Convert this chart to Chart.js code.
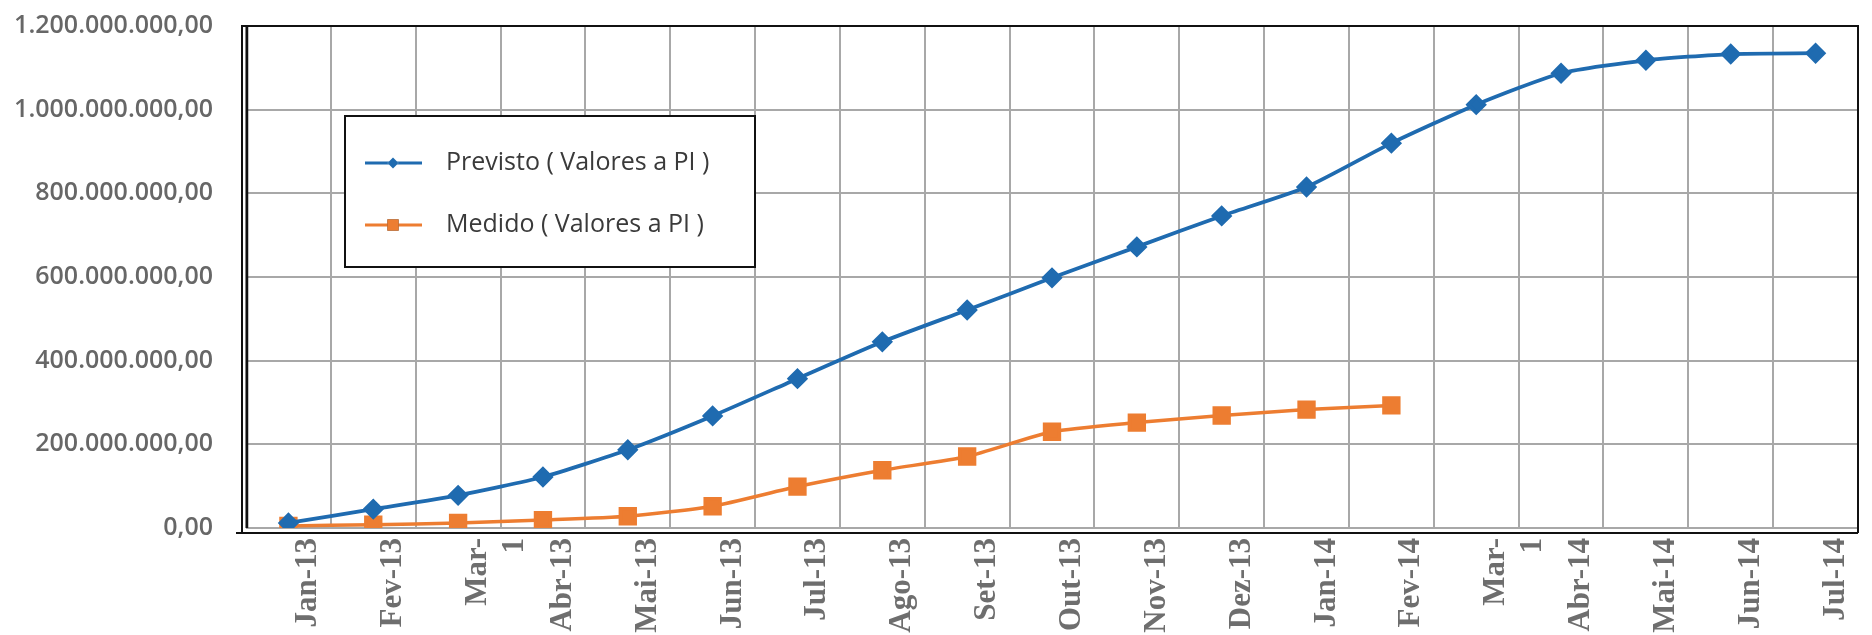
<!DOCTYPE html>
<html><head><meta charset="utf-8">
<script src="https://cdn.jsdelivr.net/npm/chart.js@4.4.0/dist/chart.umd.min.js"></script>
<style>html,body{margin:0;padding:0;background:#fff}#wrap{width:1872px;height:635px;position:relative}</style>
</head><body><div id="wrap"><canvas id="c" width="1872" height="635"></canvas></div>
<script>
const categories = ['Jan-13','Fev-13',['Mar-','1'],'Abr-13','Mai-13','Jun-13','Jul-13','Ago-13','Set-13','Out-13','Nov-13','Dez-13','Jan-14','Fev-14',['Mar-','1'],'Abr-14','Mai-14','Jun-14','Jul-14'];
const previsto = [12e6,45e6,78e6,122e6,187e6,268e6,357e6,445e6,521e6,598e6,672e6,746e6,815e6,920e6,1012e6,1087e6,1118e6,1133e6,1135e6];
const medido = [5e6,8e6,12e6,19e6,28e6,52e6,99e6,138e6,171e6,230e6,252e6,269e6,283e6,293e6,null,null,null,null,null];
const seriesNames = ['Previsto ( Valores a PI )','Medido ( Valores a PI )'];
const yTicks = [0,200e6,400e6,600e6,800e6,1000e6,1200e6];

const BLUE = '#1F6BB0', ORANGE = '#ED7D31';

function fmt(v){
  const s = Math.round(v).toString().replace(/\B(?=(\d{3})+(?!\d))/g,'.');
  return s + ',00';
}

const framePlugin = {
  id:'frame',
  beforeDatasetsDraw(chart){
    const {ctx, chartArea:a} = chart;
    const right = Math.min(a.right, chart.width - 2);
    ctx.save();
    ctx.strokeStyle = '#111';
    ctx.lineWidth = 2;
    ctx.beginPath();
    ctx.moveTo(a.left-4, a.bottom+5);
    ctx.lineTo(a.left-4, a.top);
    ctx.lineTo(right, a.top);
    ctx.lineTo(right, a.bottom+5);
    ctx.stroke();
    ctx.beginPath();
    ctx.moveTo(a.left-10, a.bottom+5);
    ctx.lineTo(right, a.bottom+5);
    ctx.stroke();
    ctx.lineWidth = 2.5;
    ctx.beginPath();
    ctx.moveTo(a.left+1, a.top);
    ctx.lineTo(a.left+1, a.bottom);
    ctx.stroke();
    ctx.restore();
  }
};

const legendPlugin = {
  id:'boxLegend',
  afterDraw(chart){
    const {ctx} = chart;
    const bx = 345, by = 116, bw = 410, bh = 151;
    ctx.save();
    ctx.fillStyle = '#fff';
    ctx.fillRect(bx, by, bw, bh);
    ctx.strokeStyle = '#111';
    ctx.lineWidth = 2;
    ctx.strokeRect(bx, by, bw, bh);
    const rows = [163, 225];
    chart.data.datasets.forEach((ds, i) => {
      const y = rows[i];
      ctx.strokeStyle = ds.borderColor;
      ctx.lineWidth = 3;
      ctx.beginPath(); ctx.moveTo(365, y); ctx.lineTo(422, y); ctx.stroke();
      Chart.helpers.drawPoint(ctx, {pointStyle: ds.pointStyle, radius: i===0?5.5:8, borderWidth:0}, 393, y);
      ctx.fillStyle = ds.pointBackgroundColor;
      ctx.fill();
      ctx.fillStyle = '#3a3a3a';
      ctx.font = '25px "Open Sans"';
      ctx.textBaseline = 'middle';
      ctx.textAlign = 'left';
      ctx.fillText(ds.label, 446, y);
    });
    ctx.restore();
  }
};

new Chart(document.getElementById('c'), {
  type:'line',
  data:{
    labels: categories,
    datasets:[
      {label: seriesNames[0], data: previsto, borderColor: BLUE, backgroundColor: BLUE, pointBackgroundColor: BLUE, pointBorderColor: BLUE, pointStyle:'rectRot', pointRadius:8, borderWidth:3.8, tension:0.2},
      {label: seriesNames[1], data: medido, borderColor: ORANGE, backgroundColor: ORANGE, pointBackgroundColor: ORANGE, pointBorderColor: ORANGE, pointStyle:'rect', pointRadius:10.5, borderWidth:3.5, tension:0.2, spanGaps:false}
    ]
  },
  options:{
    responsive:false, animation:false,
    layout:{padding:{top:26, right:-7, left:0, bottom:0}},
    plugins:{legend:{display:false}, tooltip:{enabled:false}},
    scales:{
      x:{
        type:'category', offset:true,
        grid:{offset:true, color:'#a8a8a8', lineWidth:2, drawTicks:false},
        border:{display:false},
        ticks:{minRotation:90, maxRotation:90, autoSkip:false, labelOffset:20, padding:10, color:'#6e6e6e', font:{family:'"Liberation Serif"', size:31, weight:'bold'}},
        afterFit(s){ s.height = 107; s.paddingLeft = 0; s.paddingRight = 0; }
      },
      y:{
        min:0, max:1200e6,
        afterBuildTicks(s){ s.ticks = yTicks.map(v => ({value:v})); },
        ticks:{padding:33, color:'#676767', font:{family:'"Open Sans"', size:25, weight:'600'}, callback:(v)=>fmt(v)},
        grid:{color:'#a8a8a8', lineWidth:2, drawTicks:false},
        border:{display:false},
        afterFit(s){ s.width = 246; s.paddingTop = 0; s.paddingBottom = 0; }
      }
    }
  },
  plugins:[framePlugin, legendPlugin]
});
</script></body></html>
